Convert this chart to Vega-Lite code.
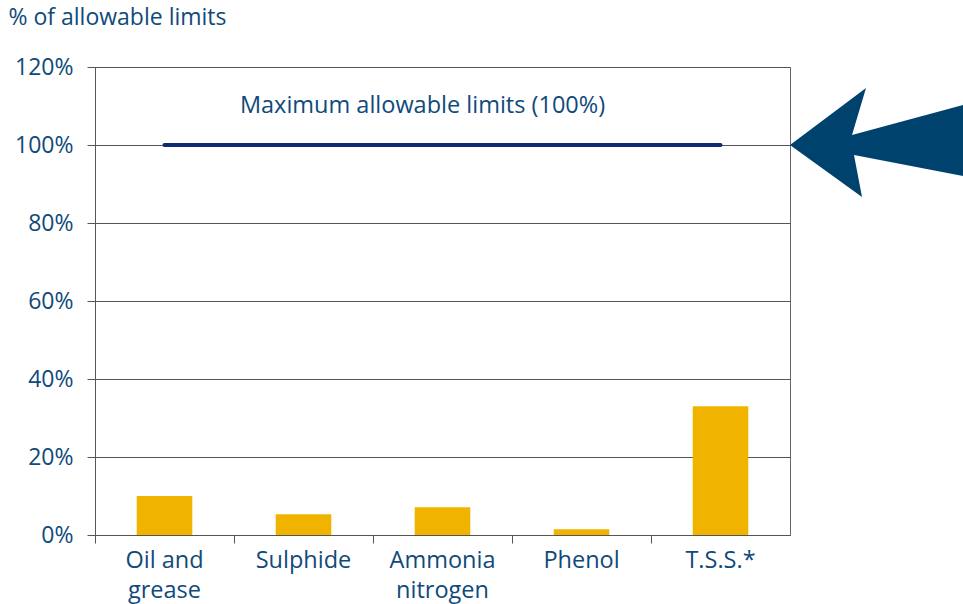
{
  "$schema": "https://vega.github.io/schema/vega-lite/v6.json",
  "width": 695,
  "height": 468,
  "autosize": {"type": "none"},
  "padding": {"left": 95, "top": 67, "right": 173, "bottom": 69},
  "background": "white",
  "config": {
    "font": "Open Sans",
    "view": {"stroke": "#666666", "strokeWidth": 1}
  },
  "datasets": {
    "bars": [
      {"item": "Oil and grease", "value": 10},
      {"item": "Sulphide", "value": 5.3},
      {"item": "Ammonia nitrogen", "value": 7.1},
      {"item": "Phenol", "value": 1.5},
      {"item": "T.S.S.*", "value": 33}
    ],
    "limit": [
      {"start": "Oil and grease", "end": "T.S.S.*", "level": 100, "mid": "Ammonia nitrogen", "labelLevel": 110, "label": "Maximum allowable limits (100%)", "edge": "T.S.S.*"}
    ]
  },
  "layer": [
    {
      "data": {"name": "bars"},
      "mark": {"type": "bar", "color": "#f0b400", "width": {"band": 0.4}},
      "encoding": {
        "x": {
          "field": "item",
          "type": "nominal",
          "sort": null,
          "scale": {"domain": ["Oil and grease", "Sulphide", "Ammonia nitrogen", "Phenol", "T.S.S.*"], "paddingInner": 0, "paddingOuter": 0},
          "axis": {
            "title": null,
            "labelAngle": 0,
            "bandPosition": 0,
            "domainColor": "#555555",
            "tickColor": "#555555",
            "tickSize": 8,
            "labelPadding": 5,
            "labelFontSize": 23.5,
            "labelColor": "#0f4a7a",
            "labelLineHeight": 30,
            "labelBaseline": "top",
            "labelExpr": "datum.value == 'Oil and grease' ? ['Oil and', 'grease'] : datum.value == 'Ammonia nitrogen' ? ['Ammonia', 'nitrogen'] : datum.value"
          }
        },
        "y": {
          "field": "value",
          "type": "quantitative",
          "scale": {"domain": [0, 120], "nice": false},
          "axis": {
            "values": [0, 20, 40, 60, 80, 100, 120],
            "labelExpr": "datum.value + '%'",
            "grid": true,
            "gridColor": "#555555",
            "gridOpacity": 1,
            "domainColor": "#555555",
            "tickColor": "#555555",
            "tickSize": 8,
            "labelPadding": 14,
            "labelFontSize": 23,
            "labelColor": "#0f4a7a",
            "title": "% of allowable limits",
            "titleAngle": 0,
            "titleAlign": "left",
            "titleBaseline": "alphabetic",
            "titleX": -87,
            "titleY": -43,
            "titleFontSize": 23,
            "titleFontWeight": "normal",
            "titleColor": "#0f4a7a"
          }
        }
      }
    },
    {
      "data": {"name": "limit"},
      "mark": {"type": "rule", "color": "#0b2a72", "strokeWidth": 4, "strokeCap": "round"},
      "encoding": {
        "x": {"field": "start", "type": "nominal"},
        "x2": {"field": "end"},
        "y": {"field": "level", "type": "quantitative"}
      }
    },
    {
      "data": {"name": "limit"},
      "mark": {"type": "text", "fontSize": 23.5, "color": "#0f4a7a", "dx": -20, "baseline": "middle"},
      "encoding": {
        "x": {"field": "mid", "type": "nominal"},
        "y": {"field": "labelLevel", "type": "quantitative"},
        "text": {"field": "label"}
      }
    },
    {
      "data": {"name": "limit"},
      "mark": {
        "type": "point",
        "filled": true,
        "color": "#00426e",
        "opacity": 1,
        "strokeWidth": 0,
        "size": 40000,
        "shape": "M0,0 L0.76,-0.57 L0.62,-0.10 L1.73,-0.40 L1.73,0.31 L0.64,0.10 L0.72,0.52 Z"
      },
      "encoding": {
        "x": {"field": "edge", "type": "nominal", "bandPosition": 1},
        "y": {"field": "level", "type": "quantitative"}
      }
    }
  ]
}
